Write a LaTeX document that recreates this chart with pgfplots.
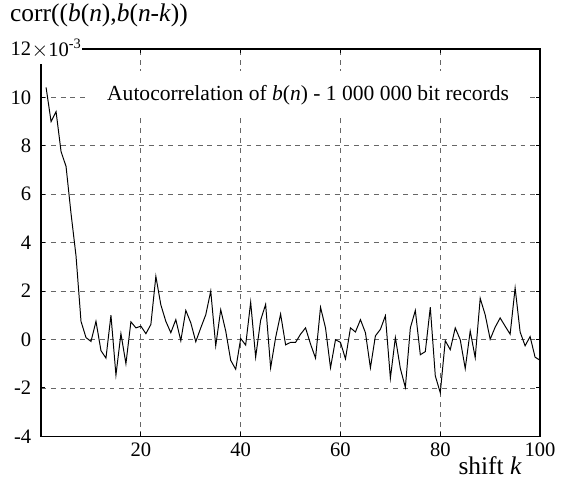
\documentclass[border=0pt]{standalone}
\usepackage{fontspec}
\setmainfont{Liberation Serif}
\usepackage{pgfplots}
\pgfplotsset{compat=1.18}

\pgfplotstableread{
k r
1 10.41
2 9.0
3 9.41
4 7.76
5 7.15
6 5.2
7 3.45
8 0.75
9 0.08
10 -0.08
11 0.75
12 -0.46
13 -0.77
14 1.0
15 -1.47
16 0.24
17 -1.0
18 0.73
19 0.48
20 0.55
21 0.24
22 0.62
23 2.61
24 1.43
25 0.75
26 0.28
27 0.82
28 -0.05
29 1.2
30 0.69
31 -0.09
32 0.48
33 1.02
34 2.0
35 -0.26
36 1.23
37 0.35
38 -0.86
39 -1.23
40 0.04
41 -0.23
42 1.54
43 -0.73
44 0.8
45 1.45
46 -1.17
47 0.08
48 1.05
49 -0.22
50 -0.12
51 -0.12
52 0.22
53 0.48
54 -0.19
55 -0.77
56 1.33
57 0.48
58 -1.17
59 -0.01
60 -0.12
61 -0.8
62 0.48
63 0.31
64 0.82
65 0.28
66 -1.17
67 0.15
68 0.42
69 0.98
70 -1.6
71 0.08
72 -1.2
73 -1.98
74 0.48
75 1.2
76 -0.63
77 -0.5
78 1.33
79 -1.5
80 -2.2
81 -0.05
82 -0.42
83 0.48
84 -0.01
85 -1.2
86 0.35
87 -0.75
88 1.7
89 1.02
90 0.01
91 0.51
92 0.89
93 0.55
94 0.22
95 2.13
96 0.31
97 -0.26
98 0.12
99 -0.73
100 -0.86
}\acdata

\begin{document}
\begin{tikzpicture}
\begin{axis}[
    at={(0,0)}, anchor=south west,
    scale only axis,
    width=255pt, height=198pt,
    xmin=0, xmax=100,
    ymin=-4, ymax=12,
    xtick={20,40,60,80,100},
    xticklabels={20,40,60,80,100},
    ytick={-4,-2,0,2,4,6,8,10,12},
    yticklabels={-4,-2,0,2,4,6,8,10,12},
    tick label style={font=\fontsize{10.5}{12}\selectfont},
    grid=major,
    grid style={dashed, gray!80!black, line width=0.4pt, dash pattern=on 2.5pt off 2.5pt},
    axis line style={line width=0.7pt},
    major tick length=2pt,
    tick style={black, line width=0.5pt},
    yticklabel style={xshift=-1.5pt},
    clip=false,
]
\addplot[black, line width=0.5pt] table[x=k, y=r] {\acdata};

\node[fill=white, inner xsep=9pt, inner ysep=7pt, font=\fontsize{11}{13}\selectfont] at (axis cs:53.5,10.1)
    {Autocorrelation of \textit{b}(\textit{n}) - 1 000 000 bit records};
\node[fill=white, inner xsep=0pt, inner ysep=3pt, anchor=west, font=\fontsize{10.5}{12}\selectfont]
    at ([xshift=-5pt]rel axis cs:0,1)
    {$\times$10\textsuperscript{-3}\hspace{4pt}};
\node[anchor=west, inner sep=0pt, font=\fontsize{13}{15}\selectfont] at ([xshift=-16pt, yshift=17pt]rel axis cs:0,1)
    {corr((\textit{b}(\textit{n}),\textit{b}(\textit{n}-\textit{k}))};
\node[inner sep=0pt, font=\fontsize{13}{15}\selectfont] at ([yshift=-15pt]rel axis cs:0.90,0) {shift \textit{k}};
\end{axis}
\path[use as bounding box] (-21pt,-22pt) rectangle (260pt,223pt);
\end{tikzpicture}
\end{document}
